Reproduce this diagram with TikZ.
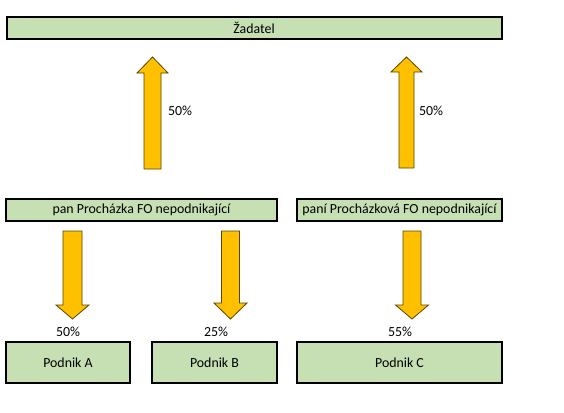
\documentclass[tikz,border=0pt]{standalone}
\usepackage{fontspec}
\setmainfont{Carlito}
\usepackage{tikz}
\definecolor{boxgreen}{HTML}{C6E0B4}
\definecolor{arrowyellow}{HTML}{FFC000}
\definecolor{arrowline}{HTML}{5A4400}
\tikzset{
  entity/.style={draw=black, line width=1.5pt, fill=boxgreen, inner sep=0pt, font=\fontsize{10.4}{12}\selectfont},
  share/.style={font=\fontsize{10.4}{12}\selectfont, inner sep=0pt},
  blockarrow/.style={draw=arrowline, line width=0.6pt, fill=arrowyellow, line join=miter}
}
% block arrow: centre x, tail y, head base y, tip y, shaft half width, head half width
\newcommand{\blockarr}[6]{%
\draw[blockarrow] (#1-#5,#2) -- (#1+#5,#2) -- (#1+#5,#3) -- (#1+#6,#3)
  -- (#1,#4) -- (#1-#6,#3) -- (#1-#5,#3) -- cycle;}
\begin{document}
\begin{tikzpicture}[x=0.75pt, y=-0.75pt]
\useasboundingbox (0,0) rectangle (564,412);
% boxes
\node[entity, minimum width=495*0.75pt, minimum height=22*0.75pt] (zadatel) at (254,28) {Žadatel};
\node[entity, minimum width=271*0.75pt, minimum height=22*0.75pt] (pan) at (141.5,210) {pan Procházka FO nepodnikající};
\node[entity, minimum width=205*0.75pt, minimum height=22*0.75pt] (pani) at (399.5,210) {paní Procházková FO nepodnikající};
\node[entity, minimum width=124*0.75pt, minimum height=41*0.75pt] (podA) at (68,362.5) {Podnik A};
\node[entity, minimum width=125*0.75pt, minimum height=41*0.75pt] (podB) at (214.5,362.5) {Podnik B};
\node[entity, minimum width=205*0.75pt, minimum height=41*0.75pt] (podC) at (399.5,362.5) {Podnik C};
% arrows
\blockarr{152.5}{169}{73}{57}{8.5}{15.5}
\blockarr{406.5}{168}{72}{57}{7.5}{15.5}
\blockarr{72.5}{231}{305}{319}{9.5}{16.5}
\blockarr{230.5}{231}{303}{319}{9}{16.5}
\blockarr{412}{231}{305}{319}{9}{16.5}
% shares
\node[share] (sh1) at (180,111) {50\%};
\node[share] (sh2) at (431,111) {50\%};
\node[share] (sh3) at (68,332) {50\%};
\node[share] (sh4) at (216,332) {25\%};
\node[share] (sh5) at (400,332) {55\%};
\end{tikzpicture}
\end{document}
